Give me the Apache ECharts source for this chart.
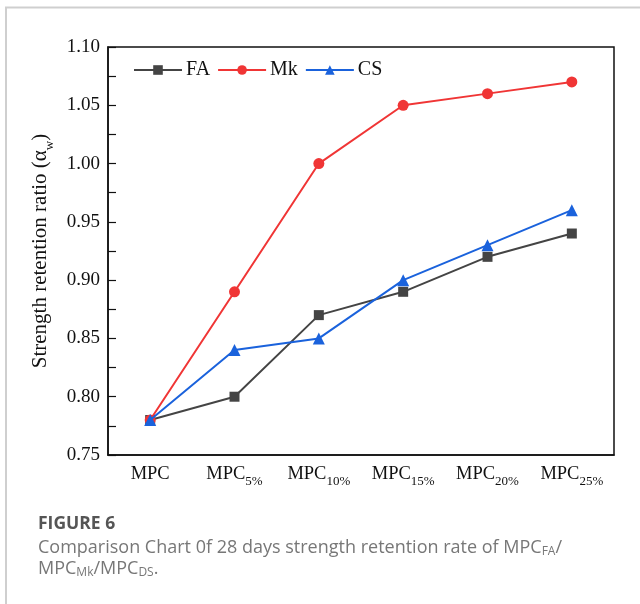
<!DOCTYPE html>
<html><head><meta charset="utf-8">
<script src="https://cdn.jsdelivr.net/npm/echarts@6/dist/echarts.min.js"></script>
<style>html,body{margin:0;padding:0;background:#fff}#c{width:640px;height:604px}</style>
</head><body><div id="c"></div>
<script>
const categories = ['MPC', 'MPC5%', 'MPC10%', 'MPC15%', 'MPC20%', 'MPC25%'];
const subscripts = ['', '5%', '10%', '15%', '20%', '25%'];
const faValues = [0.78, 0.80, 0.87, 0.89, 0.92, 0.94];
const mkValues = [0.78, 0.89, 1.00, 1.05, 1.06, 1.07];
const csValues = [0.78, 0.84, 0.85, 0.90, 0.93, 0.96];
const seriesNames = ['FA', 'Mk', 'CS'];

const chart = echarts.init(document.getElementById('c'));
const serif = 'Liberation Serif';
const mk = (name, data, color, symbol, size) => ({
  name, type: 'line', data, symbol, symbolSize: size,
  lineStyle: { color, width: 2 }, itemStyle: { color },
  z: name === 'CS' ? 5 : (name === 'Mk' ? 4 : 3)
});
chart.setOption({
  animation: false,
  grid: { left: 108, right: 26, top: 47, bottom: 149, show: true, borderColor: '#111', borderWidth: 1.5, backgroundColor: 'transparent' },
  legend: {
    left: 128, top: 55, itemWidth: 48, itemHeight: 12, itemGap: 7,
    textStyle: { fontFamily: serif, fontSize: 20, color: '#111', padding: [0, 0, 0, -1] },
    data: seriesNames
  },
  xAxis: {
    type: 'category', data: categories, boundaryGap: true,
    axisLine: { show: true, lineStyle: { color: '#111', width: 1.5 } },
    axisTick: { show: false },
    axisLabel: {
      interval: 0, margin: 5,
      formatter: (v, i) => subscripts[i] ? '{m|MPC}{s|' + subscripts[i] + '}' : '{m|MPC}',
      rich: {
        m: { fontFamily: serif, fontSize: 18.5, color: '#111', lineHeight: 28, verticalAlign: 'middle' },
        s: { fontFamily: serif, fontSize: 13, color: '#111', lineHeight: 28, verticalAlign: 'bottom' }
      }
    }
  },
  yAxis: {
    type: 'value', min: 0.75, max: 1.10, interval: 0.05,
    name: '{t|Strength retention ratio (}{a|α}{w|w}{t|)}', nameLocation: 'middle', nameGap: 45,
    nameTextStyle: { fontFamily: serif, fontSize: 21, color: '#111',
      rich: {
        t: { fontFamily: serif, fontSize: 21, color: '#111', lineHeight: 30, verticalAlign: 'middle' },
        a: { fontFamily: serif, fontSize: 21, color: '#111', lineHeight: 30, verticalAlign: 'middle' },
        w: { fontFamily: serif, fontSize: 13, color: '#111', lineHeight: 30, verticalAlign: 'bottom' }
      } },
    axisLine: { show: true, lineStyle: { color: '#111', width: 1.5 } },
    axisTick: { show: true, inside: false, length: -8, lineStyle: { color: '#111', width: 1.2 } },
    minorTick: { show: true, splitNumber: 2, length: -8, lineStyle: { color: '#111', width: 1.2 } },
    splitLine: { show: false },
    axisLabel: { inside: false, fontFamily: serif, fontSize: 19, color: '#111', margin: 8, formatter: v => v.toFixed(2) }
  },
  series: [
    mk('FA', faValues, '#444444', 'rect', 10),
    mk('Mk', mkValues, '#f03535', 'circle', 11),
    mk('CS', csValues, '#1a62dc', 'triangle', 12)
  ],
  graphic: [
    { type: 'polyline', shape: { points: [[6, 604], [6, 7.5], [640, 7.5]] }, style: { stroke: '#cfcfcf', lineWidth: 2, fill: null } },
    { type: 'text', left: 38, top: 515, style: { text: 'FIGURE 6', fontFamily: 'Open Sans', fontWeight: 'bold', fontSize: 17.5, fill: '#555' } },
    { type: 'text', left: 38, top: 537, style: {
      text: 'Comparison Chart 0f 28 days strength retention rate of MPC{s|FA}/\nMPC{s|Mk}/MPC{s|DS}.',
      fontFamily: 'Open Sans', fontSize: 18, fill: '#777', lineHeight: 21,
      rich: { s: { fontFamily: 'Open Sans', fontSize: 12, fill: '#777', lineHeight: 21, verticalAlign: 'bottom' } }
    } }
  ]
});
</script></body></html>
